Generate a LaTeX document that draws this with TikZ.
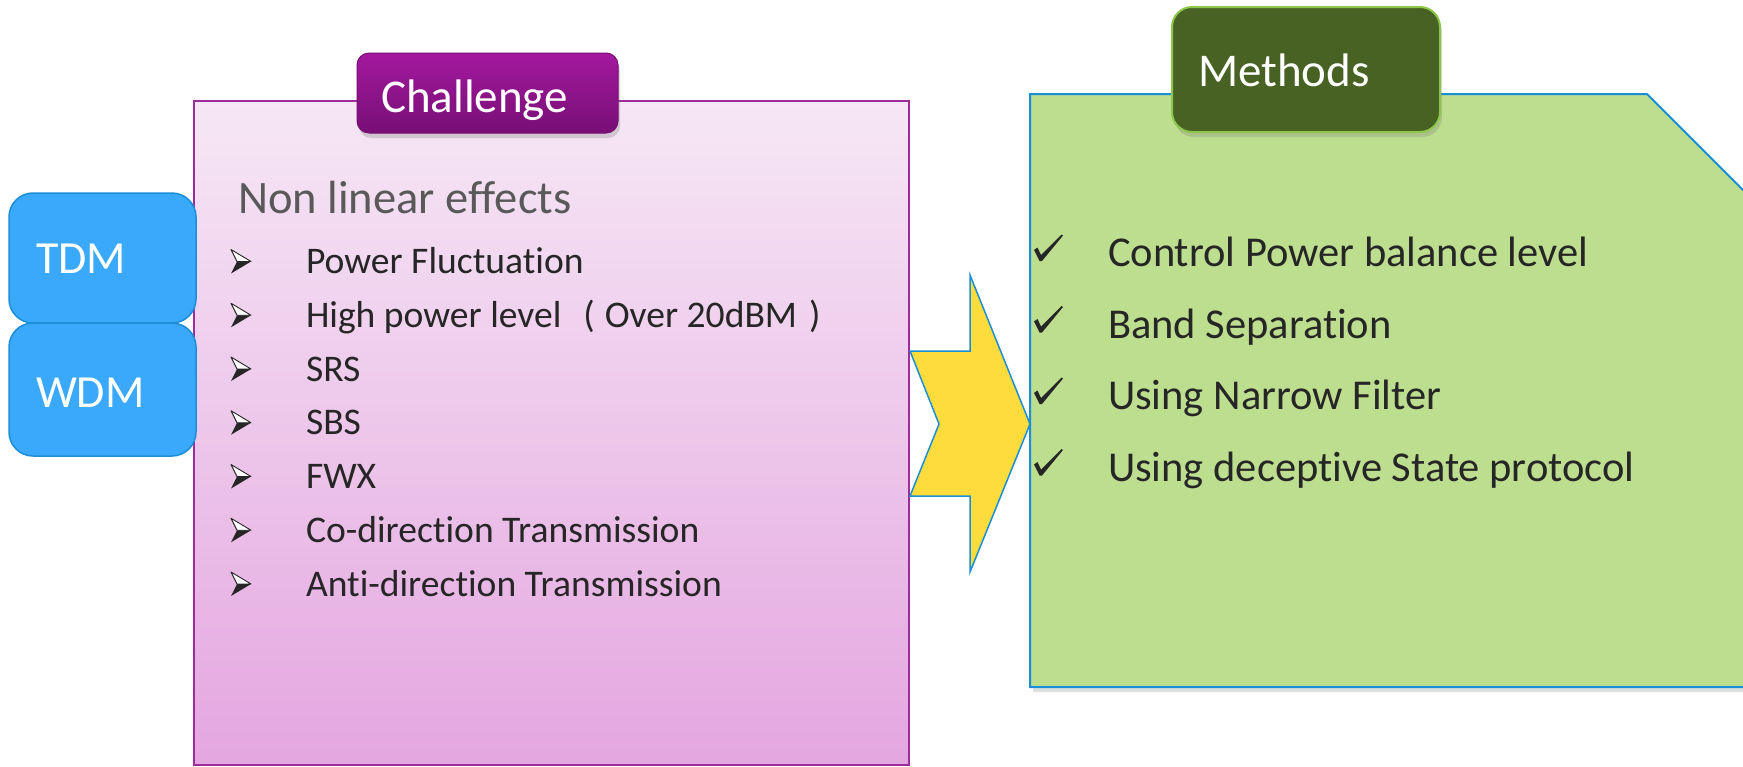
\documentclass[tikz,border=0pt]{standalone}
\usepackage{fontspec}
\setmainfont{Carlito}[Ligatures={NoCommon}]
\usetikzlibrary{shadows}
\definecolor{pinkTop}{HTML}{F6E7F5}
\definecolor{pinkBot}{HTML}{E4A6E0}
\definecolor{pinkLine}{HTML}{9C2C9A}
\definecolor{tabTop}{HTML}{A3199F}
\definecolor{tabBot}{HTML}{780F75}
\definecolor{blueFill}{HTML}{3AA9FC}
\definecolor{blueLine}{HTML}{1A8ED6}
\definecolor{greenFill}{HTML}{BDDE8F}
\definecolor{greenTab}{HTML}{476222}
\definecolor{greenTabLine}{HTML}{8CC64A}
\definecolor{yellowFill}{HTML}{FDDC3C}
\definecolor{txt}{HTML}{262626}
\definecolor{nlgray}{HTML}{595959}
\tikzset{
  boxnode/.style={inner sep=0pt, outer sep=0pt},
  txtnode/.style={inner sep=0pt, outer sep=0pt, anchor=base west},
  chalbox/.style={boxnode, draw=pinkLine, line width=2pt, top color=pinkTop, bottom color=pinkBot,
    minimum width=715pt, minimum height=664pt},
  muxbox/.style={boxnode, draw=blueLine, line width=1.5pt, fill=blueFill, rounded corners=24pt,
    minimum width=187pt},
  chaltab/.style={boxnode, draw=tabBot, line width=1pt, top color=tabTop, bottom color=tabBot,
    rounded corners=12pt, minimum width=261pt, minimum height=80pt,
    drop shadow={opacity=0.3, shadow xshift=2pt, shadow yshift=-5pt}},
  methtab/.style={boxnode, draw=greenTabLine, line width=2pt, fill=greenTab,
    rounded corners=20pt, minimum width=268pt, minimum height=125pt,
    drop shadow={opacity=0.3, shadow xshift=2pt, shadow yshift=-5pt}},
  bigwhite/.style={txtnode, text=white, font=\fontsize{47}{52}\selectfont},
  pinkitem/.style={txtnode, text=txt, font=\fontsize{37.6}{42}\selectfont},
  greenitem/.style={txtnode, text=txt, font=\fontsize{42.5}{48}\selectfont},
  arrowshape/.style={draw=blueLine, line width=1.5pt, fill=yellowFill, line join=miter},
  greenshape/.style={draw=blueLine, line width=2pt, fill=greenFill,
    drop shadow={opacity=0.25, shadow xshift=3pt, shadow yshift=-5pt}},
  bul/.pic={
    \filldraw[fill=white, draw=txt, line width=0.9pt, line join=round] (0,-24) -- (20,-12) -- (6,-12) -- cycle;
    \fill[txt] (6,-12) -- (20,-12) -- (0,0) -- cycle;
  },
  chk/.pic={
    \fill[txt, line join=round] (0,-11) -- (3.5,-13.5) -- (7,-6) -- (27.5,-26.5) -- (29,-25.5)
      -- (8,0) -- (5.5,0) -- cycle;
  }
}
\begin{document}
\begin{tikzpicture}[x=1pt,y=-1pt]
\useasboundingbox (0,0) rectangle (1743,766);
\clip (0,0) rectangle (1743,766);

% challenge box
\node[chalbox] (chal) at (551.5,433) {};
\node[muxbox, minimum height=130pt] (tdm) at (102.5,258) {};
\node[muxbox, minimum height=133pt] (wdm) at (102.5,389.5) {};
\node[txtnode, text=white, font=\fontsize{46}{50}\selectfont] (tdmt) at (36,273) {TDM};
\node[txtnode, text=white, font=\fontsize{46}{50}\selectfont] (wdmt) at (36,407) {WDM};

\node[chaltab] (ctab) at (487.5,93) {};
\node[bigwhite] (ctabt) at (381,112) {Challenge};

\node[txtnode, text=nlgray, font=\fontsize{46.5}{52}\selectfont] (nle) at (238,213) {Non linear effects};

\foreach \t [count=\i from 0] in {Power Fluctuation,
  {High power level\hspace{22pt}(\hspace{10pt}Over 20dBM\hspace{12pt})},
  SRS, SBS, FWX, Co-direction Transmission, Anti-direction Transmission}{
  \pgfmathsetmacro{\yb}{273.5+53.75*\i}
  \pic at (231,\yb) {bul};
  \node[pinkitem] (ch\i) at (306,\yb) {\t};
}

% methods box
\path[greenshape] (1030,94) -- (1647,94) -- (1800,247) -- (1800,687) -- (1030,687) -- cycle;

% yellow arrow
\path[arrowshape] (910,351) -- (970,351) -- (970,275) -- (1030,424) -- (970,572) -- (970,496) -- (910,496) -- (939,424) -- cycle;

\node[methtab] (mtab) at (1306,69.5) {};
\node[bigwhite] (mtabt) at (1198,86) {Methods};

\foreach \t/\yb [count=\i] in {Control Power balance level/266.5, Band Separation/338,
  Using Narrow Filter/409.5, Using deceptive State protocol/481}{
  \pic at (1034,\yb-5.5) {chk};
  \node[greenitem] (me\i) at (1108,\yb) {\t};
}
\end{tikzpicture}
\end{document}
